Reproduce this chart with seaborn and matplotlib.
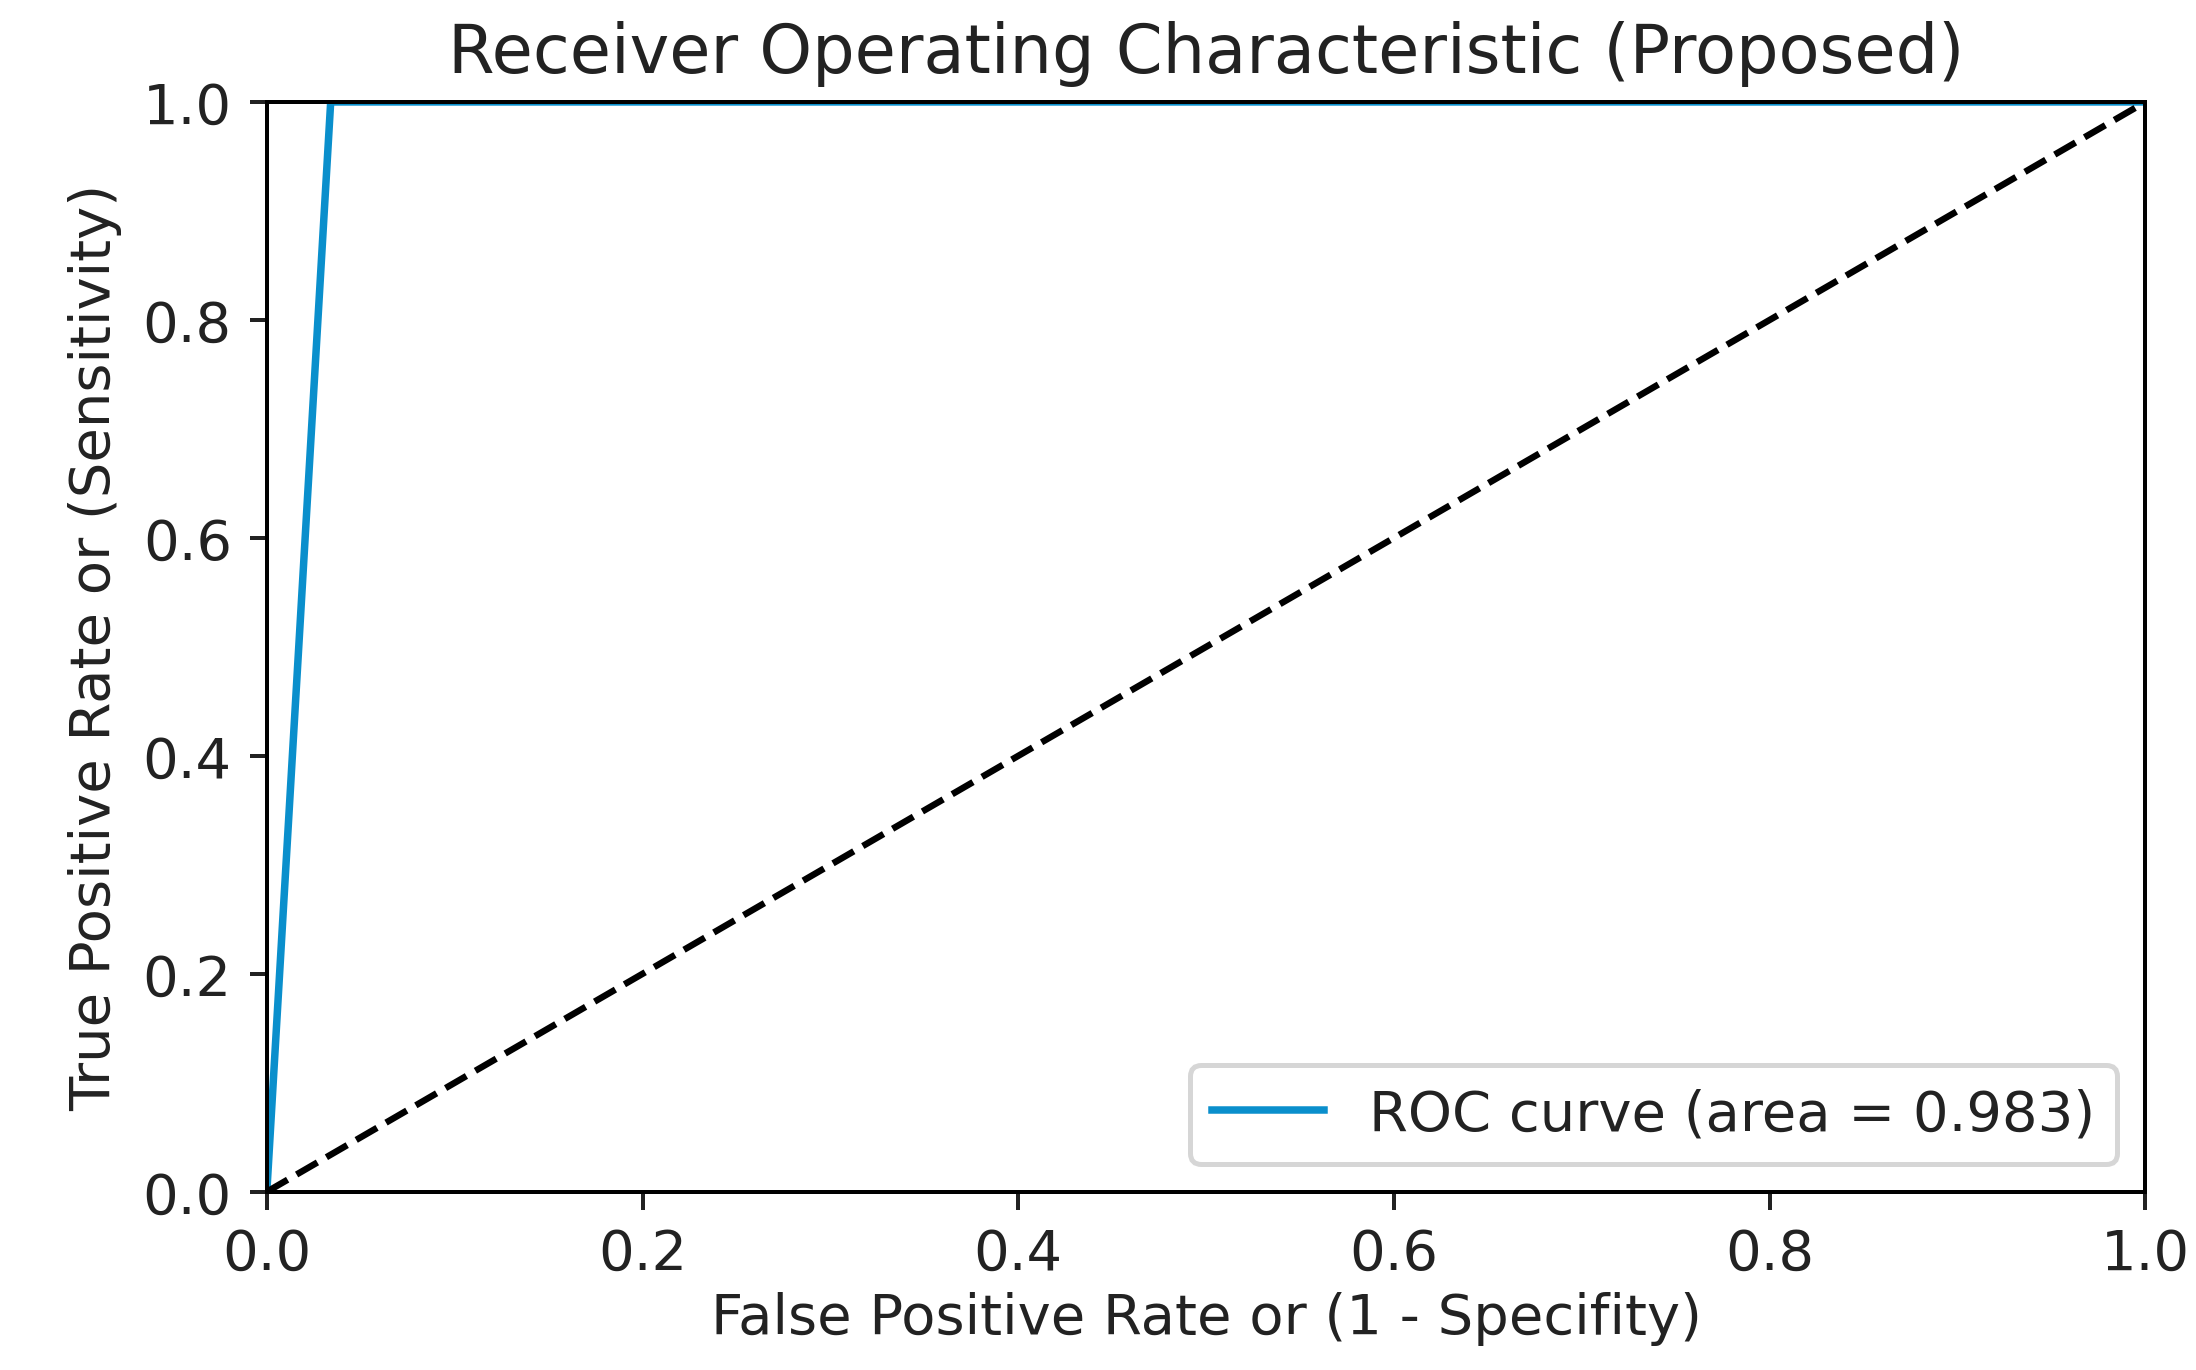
import numpy as np
import pandas as pd
import matplotlib
matplotlib.use("Agg")
import matplotlib.pyplot as plt
import seaborn as sns

# ROC points
fpr = [0.0, 0.034, 1.0]
tpr = [0.0, 1.0, 1.0]
chance = [0.0, 1.0]
roc_auc = 0.983

roc_df = pd.DataFrame({"fpr": fpr, "tpr": tpr})
chance_df = pd.DataFrame({"x": chance, "y": chance})

plt.rcParams["font.family"] = ["DejaVu Sans"]
plt.rcParams["font.size"] = 11.2
plt.rcParams["text.color"] = "#222222"
plt.rcParams["axes.labelcolor"] = "#222222"
plt.rcParams["xtick.color"] = "#222222"
plt.rcParams["ytick.color"] = "#222222"

fig, ax = plt.subplots(figsize=(6.1, 3.808), dpi=360)

sns.lineplot(data=roc_df, x="fpr", y="tpr", ax=ax, color="#0a8fcc", lw=1.5,
             sort=False, estimator=None, label=f"ROC curve (area = {roc_auc:.3f})")
sns.lineplot(data=chance_df, x="x", y="y", ax=ax, color="black", lw=1.3,
             linestyle="--", estimator=None)

ax.set_xlim(0.0, 1.0)
ax.set_ylim(0.0, 1.0)
ax.set_xticks([0.0, 0.2, 0.4, 0.6, 0.8, 1.0])
ax.set_yticks([0.0, 0.2, 0.4, 0.6, 0.8, 1.0])
ax.tick_params(labelsize=11.2)
ax.set_xlabel("False Positive Rate or (1 - Specifity)", labelpad=2)
ax.set_ylabel("True Positive Rate or (Sensitivity)")
ax.set_title("Receiver Operating Characteristic (Proposed)", fontsize=13.4)
ax.legend(loc="lower right", fontsize=11.2)

fig.subplots_adjust(left=0.1215, right=0.977, top=0.925, bottom=0.130)
fig.savefig("out.png", dpi=360)
